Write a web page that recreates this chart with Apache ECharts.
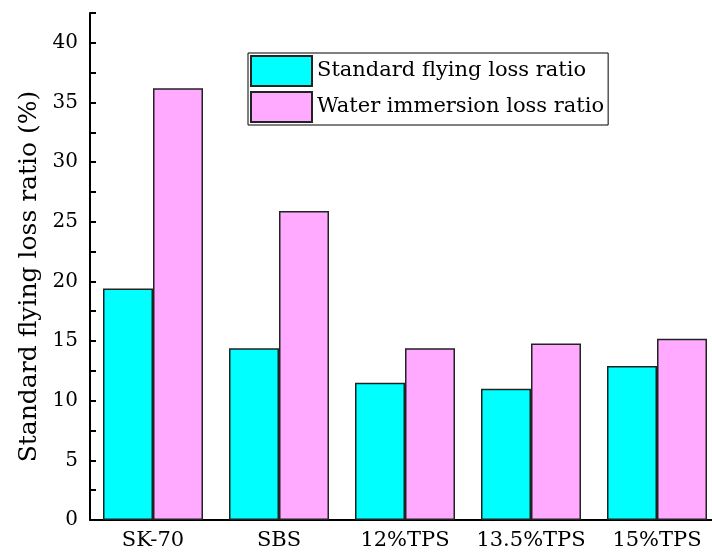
<!DOCTYPE html>
<html>
<head>
<meta charset="utf-8">
<script src="https://cdn.jsdelivr.net/npm/echarts@6/dist/echarts.min.js"></script>
<style>
html, body { margin: 0; padding: 0; background: #fff; }
#main { width: 712px; height: 554px; }
</style>
</head>
<body>
<div id="main"></div>
<script>
// data
var categories = ['SK-70', 'SBS', '12%TPS', '13.5%TPS', '15%TPS'];
var flyingLoss = [19.4, 14.4, 11.5, 11.0, 12.9];
var waterLoss = [36.2, 25.9, 14.4, 14.8, 15.2];
var seriesNames = ['Standard flying loss ratio', 'Water immersion loss ratio'];
var yLabels = [0, 5, 10, 15, 20, 25, 30, 35, 40];

var font = 'DejaVu Serif';
var myChart = echarts.init(document.getElementById('main'));
var option = {
    animation: false,
    textStyle: { fontFamily: font, color: '#000' },
    grid: { left: 90, right: -8, top: 13, bottom: 34, containLabel: false, outerBoundsMode: 'none' },
    legend: {
        orient: 'vertical',
        left: 248,
        top: 53,
        icon: 'rect',
        itemWidth: 61,
        itemHeight: 30,
        itemGap: 4,
        itemTextGap: 5,
        padding: [2, 4, 2, 2],
        borderColor: '#000',
        borderWidth: 1,
        textStyle: { fontFamily: font, fontSize: 21, color: '#000' },
        data: seriesNames
    },
    xAxis: {
        type: 'category',
        data: categories,
        axisLine: { lineStyle: { color: '#000', width: 2 } },
        axisTick: { inside: true, length: 5, lineStyle: { color: '#000', width: 2 } },
        axisLabel: { interval: 0, fontFamily: font, fontSize: 21, color: '#000', margin: 10 }
    },
    yAxis: [{
        type: 'value',
        min: 0,
        max: 42.5,
        interval: 5,
        name: 'Standard flying loss ratio (%)',
        nameLocation: 'middle',
        nameGap: 46,
        nameTextStyle: { fontFamily: font, fontSize: 25, color: '#000', padding: [0, 20, 0, 0] },
        axisLine: { show: true, lineStyle: { color: '#000', width: 2 } },
        axisTick: { inside: true, length: 10, lineStyle: { color: '#000', width: 2 }, customValues: yLabels },
        axisLabel: { fontFamily: font, fontSize: 20, color: '#000', margin: 12, customValues: yLabels },
        splitLine: { show: false }
    }, {
        type: 'value',
        min: 0,
        max: 42.5,
        interval: 2.5,
        position: 'left',
        axisLine: { show: false },
        axisTick: { show: true, inside: true, length: 6, lineStyle: { color: '#000', width: 2 } },
        axisLabel: { show: false },
        splitLine: { show: false }
    }],
    series: [{
        name: seriesNames[0],
        type: 'bar',
        data: flyingLoss,
        barWidth: 50,
        barGap: '0%',
        itemStyle: { color: '#00ffff', borderColor: '#222', borderWidth: 1.5 }
    }, {
        name: seriesNames[1],
        type: 'bar',
        data: waterLoss,
        barWidth: 50,
        barGap: '0%',
        itemStyle: { color: '#ffaaff', borderColor: '#222', borderWidth: 1.5 }
    }]
};
myChart.setOption(option);
</script>
</body>
</html>
